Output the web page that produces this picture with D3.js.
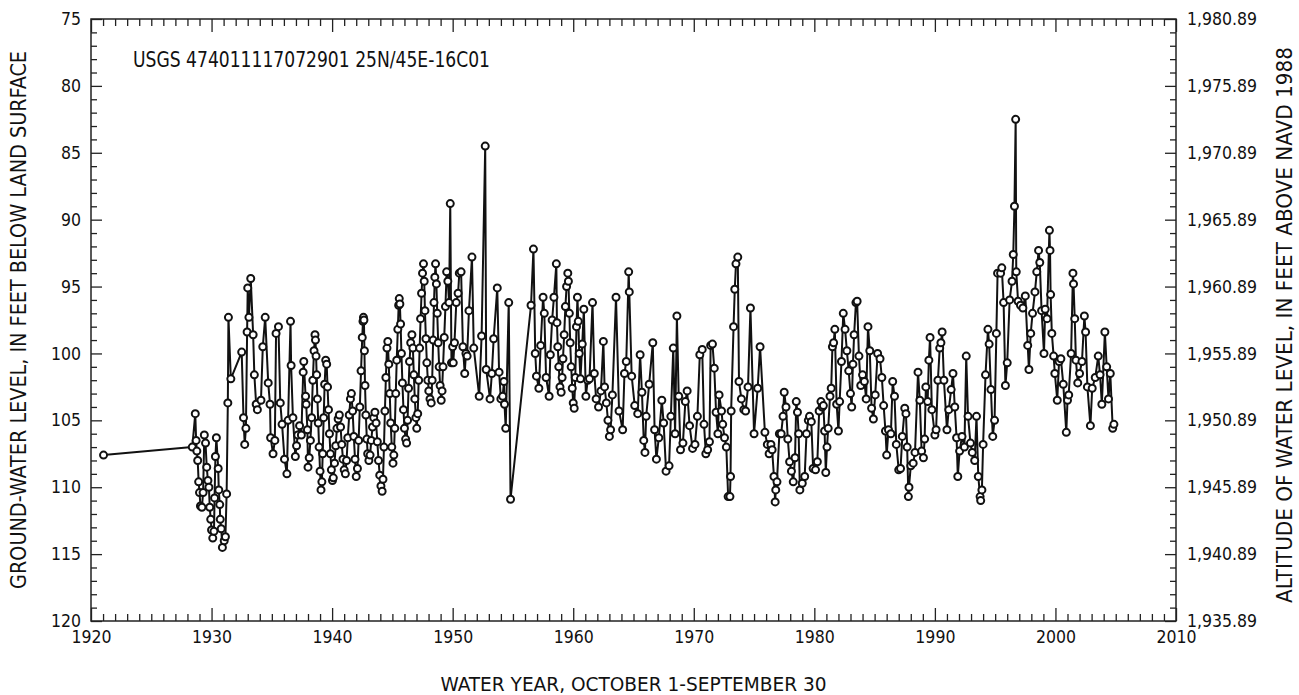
<!DOCTYPE html>
<html>
<head>
<meta charset="utf-8">
<script src="https://cdn.jsdelivr.net/npm/d3@7"></script>
<style>
  body { margin: 0; background: #fff; }
  svg text { font-family: "Liberation Sans Narrow", "Arial Narrow", "DejaVu Sans Condensed", sans-serif; fill: #111; }
</style>
</head>
<body>
<div id="chart"></div>
<script>
// well USGS 474011117072901 25N/45E-16C01, depth to water (ft below land surface)
// [water year (decimal), depth]
var obs1920s = [[1921.04,107.6],[1928.40,107.0],[1928.65,104.5],[1928.72,106.5],[1928.78,107.3],[1928.85,108.0],[1928.93,109.6],[1929.0,110.4],[1929.08,111.4],[1929.2,111.5],[1929.3,110.4],[1929.4,106.1],[1929.5,106.7],[1929.6,108.5],[1929.7,109.5],[1929.78,110.0],[1929.85,111.5],[1929.93,112.4]];
var obs1930s = [[1930.0,113.2],[1930.1,113.8],[1930.2,113.3],[1930.25,110.8],[1930.32,107.7],[1930.4,106.3],[1930.55,108.6],[1930.6,110.2],[1930.68,111.3],[1930.72,112.4],[1930.8,113.1],[1930.9,114.5],[1931.05,114.0],[1931.15,113.7],[1931.25,110.5],[1931.35,103.7],[1931.4,97.3],[1931.6,101.9],[1932.5,99.9],[1932.65,104.8],[1932.75,106.8],[1932.85,105.6],[1932.95,98.4],[1933.0,95.1],[1933.1,97.3],[1933.25,94.4],[1933.45,98.6],[1933.55,101.6],[1933.7,103.8],[1933.8,104.2],[1934.1,103.5],[1934.25,99.5],[1934.45,97.3],[1934.7,102.2],[1934.85,103.8],[1934.9,106.3],[1935.1,107.5],[1935.25,106.5],[1935.35,98.5],[1935.55,98.0],[1935.7,103.7],[1935.85,105.3],[1936.05,107.9],[1936.25,109.0],[1936.35,105.0],[1936.55,97.6],[1936.6,100.9],[1936.75,104.8],[1936.95,107.7],[1937.05,106.9],[1937.15,106.1],[1937.3,105.4],[1937.45,106.1],[1937.6,101.4],[1937.65,100.6],[1937.8,103.2],[1937.85,103.8],[1937.95,105.7],[1938.0,108.5],[1938.1,107.8],[1938.2,106.5],[1938.3,104.8],[1938.4,102.0],[1938.5,99.8],[1938.58,98.6],[1938.62,99.0],[1938.67,100.2],[1938.72,101.6],[1938.78,103.4],[1938.85,105.2],[1938.92,107.0],[1939.0,108.8],[1939.08,110.2],[1939.15,109.6],[1939.22,107.5],[1939.3,104.8],[1939.38,102.3],[1939.47,100.5],[1939.55,100.8],[1939.62,102.5],[1939.7,104.2],[1939.78,106.0],[1939.86,107.5],[1939.94,108.7]];
var obs1940s = [[1940.03,109.5],[1940.1,109.3],[1940.2,108.2],[1940.3,106.9],[1940.4,105.6],[1940.5,104.9],[1940.6,104.6],[1940.7,105.5],[1940.8,106.8],[1940.9,107.9],[1941.0,108.7],[1941.1,109.0],[1941.2,108.0],[1941.3,106.3],[1941.42,104.6],[1941.52,103.4],[1941.6,103.0],[1941.7,104.3],[1941.8,106.2],[1941.9,107.9],[1942.0,109.2],[1942.1,108.6],[1942.2,106.5],[1942.3,104.0],[1942.4,101.3],[1942.5,98.8],[1942.56,97.6],[1942.6,97.3],[1942.64,97.5],[1942.68,99.8],[1942.73,102.4],[1942.8,104.6],[1942.88,106.4],[1942.95,107.5],[1943.05,108.0],[1943.15,107.6],[1943.25,106.5],[1943.35,105.5],[1943.45,104.8],[1943.55,104.4],[1943.65,105.2],[1943.75,106.6],[1943.85,108.0],[1943.95,109.1],[1944.05,109.9],[1944.15,110.3],[1944.22,109.4],[1944.3,107.0],[1944.38,104.3],[1944.46,101.8],[1944.55,99.6],[1944.62,99.1],[1944.7,100.8],[1944.78,103.0],[1944.86,105.2],[1944.95,107.0],[1945.05,108.2],[1945.12,107.6],[1945.2,105.6],[1945.28,103.0],[1945.36,100.5],[1945.45,98.2],[1945.52,96.4],[1945.57,95.9],[1945.62,96.3],[1945.68,97.8],[1945.75,100.0],[1945.83,102.2],[1945.92,104.2],[1946.0,105.6],[1946.1,106.4],[1946.18,106.7],[1946.26,105.0],[1946.34,102.6],[1946.42,100.6],[1946.52,99.2],[1946.62,98.6],[1946.7,99.6],[1946.78,101.6],[1946.86,103.4],[1946.95,104.8],[1947.02,105.6],[1947.1,104.5],[1947.18,102.0],[1947.26,99.6],[1947.34,97.4],[1947.42,95.5],[1947.5,94.0],[1947.58,93.3],[1947.64,94.6],[1947.7,96.8],[1947.78,98.9],[1947.86,100.7],[1947.94,102.0],[1948.02,102.8],[1948.12,103.4],[1948.22,103.7],[1948.3,102.0],[1948.38,99.0],[1948.45,96.2],[1948.52,94.3],[1948.58,93.3],[1948.65,94.8],[1948.72,97.0],[1948.8,99.2],[1948.88,101.0],[1948.96,102.4],[1949.05,103.5],[1949.12,102.8],[1949.2,101.0],[1949.3,98.8],[1949.4,96.5],[1949.5,93.9],[1949.6,94.6],[1949.7,96.2],[1949.8,88.8],[1949.9,100.7],[1950.0,99.5]];
var obs1950s = [[1950.05,100.7],[1950.15,99.2],[1950.3,96.2],[1950.45,95.5],[1950.55,94.0],[1950.7,93.9],[1950.85,99.5],[1951.0,101.5],[1951.1,100.0],[1951.2,100.2],[1951.35,96.8],[1951.6,92.8],[1951.75,99.6],[1952.2,103.2],[1952.4,98.7],[1952.7,84.5],[1952.78,101.2],[1953.1,103.4],[1953.25,101.5],[1953.4,98.9],[1953.7,95.1],[1953.85,101.4],[1954.0,103.4],[1954.15,103.2],[1954.25,102.1],[1954.3,103.8],[1954.4,105.6],[1954.65,96.2],[1954.8,110.9],[1956.5,96.4],[1956.7,92.2],[1956.85,100.0],[1956.95,101.7],[1957.15,102.6],[1957.3,99.4],[1957.5,95.8],[1957.6,97.0],[1957.75,101.8],[1958.0,103.2],[1958.1,100.1],[1958.25,97.5],[1958.4,95.8],[1958.6,93.3],[1958.65,97.7],[1958.72,99.5],[1958.8,101.0],[1958.9,102.5],[1959.0,102.9],[1959.08,101.8],[1959.15,100.4],[1959.25,98.6],[1959.35,96.5],[1959.45,95.0],[1959.55,94.0],[1959.6,94.6],[1959.68,97.0],[1959.75,99.2],[1959.83,101.0],[1959.92,102.6]];
var obs1960s = [[1960.0,103.7],[1960.08,104.1],[1960.17,101.8],[1960.27,98.0],[1960.35,95.8],[1960.42,97.6],[1960.5,100.0],[1960.6,101.9],[1960.75,99.3],[1960.88,96.7],[1961.05,103.2],[1961.2,102.0],[1961.35,101.9],[1961.6,96.2],[1961.75,101.5],[1961.9,103.4],[1962.1,104.0],[1962.3,102.8],[1962.5,99.1],[1962.6,102.5],[1962.75,103.7],[1962.88,105.0],[1963.0,106.2],[1963.1,105.7],[1963.25,103.1],[1963.55,95.8],[1963.8,104.3],[1964.1,105.7],[1964.25,101.5],[1964.4,100.6],[1964.6,93.9],[1964.65,95.4],[1964.85,101.7],[1965.1,103.9],[1965.35,104.5],[1965.55,100.1],[1965.7,102.9],[1965.85,106.5],[1965.95,107.4],[1966.05,104.7],[1966.3,102.3],[1966.6,99.2],[1966.75,105.7],[1966.9,107.9],[1967.1,106.3],[1967.35,103.5],[1967.5,105.2],[1967.7,108.8],[1967.95,108.4],[1968.1,104.7],[1968.3,99.6],[1968.45,106.0],[1968.6,97.2],[1968.75,103.2],[1968.9,107.2],[1969.1,106.7],[1969.3,103.6],[1969.45,102.8],[1969.65,105.4],[1969.9,107.1]];
var obs1970s = [[1970.1,106.8],[1970.3,104.7],[1970.5,100.1],[1970.7,99.7],[1970.85,105.3],[1971.0,107.5],[1971.15,107.2],[1971.3,106.6],[1971.4,99.4],[1971.55,99.3],[1971.7,101.1],[1971.85,104.4],[1972.0,106.0],[1972.1,103.1],[1972.3,104.3],[1972.4,105.3],[1972.55,106.3],[1972.7,107.0],[1972.85,110.7],[1973.0,110.7],[1973.05,109.2],[1973.1,104.3],[1973.3,98.0],[1973.4,95.2],[1973.5,93.3],[1973.65,92.8],[1973.75,102.1],[1973.95,103.4],[1974.15,104.2],[1974.3,104.3],[1974.5,102.5],[1974.7,96.6],[1975.0,106.0],[1975.3,102.6],[1975.5,99.5],[1975.9,105.9],[1976.1,106.8],[1976.25,107.5],[1976.4,106.8],[1976.5,107.2],[1976.65,109.2],[1976.75,111.1],[1976.8,110.2],[1976.9,109.6],[1977.1,106.0],[1977.25,106.0],[1977.4,104.7],[1977.5,102.9],[1977.65,104.0],[1977.8,106.4],[1977.95,108.1],[1978.1,108.8],[1978.25,109.6],[1978.4,107.8],[1978.5,103.6],[1978.6,104.4],[1978.7,106.0],[1978.8,110.2],[1979.0,109.7],[1979.2,109.2],[1979.35,106.0],[1979.5,105.0],[1979.6,104.7],[1979.75,105.1],[1979.9,108.6]];
var obs1980s = [[1980.1,108.7],[1980.25,108.1],[1980.4,104.3],[1980.55,103.6],[1980.65,104.0],[1980.75,103.9],[1980.85,105.8],[1980.95,108.9],[1981.05,107.0],[1981.15,105.6],[1981.3,103.2],[1981.4,102.6],[1981.5,99.5],[1981.6,99.2],[1981.7,98.2],[1981.85,103.8],[1982.0,105.8],[1982.1,103.6],[1982.25,100.6],[1982.4,97.0],[1982.55,98.2],[1982.7,99.8],[1982.85,101.3],[1983.0,103.0],[1983.1,104.0],[1983.2,100.8],[1983.3,98.6],[1983.45,96.2],[1983.55,96.1],[1983.7,100.2],[1983.85,102.4],[1984.0,101.6],[1984.15,102.1],[1984.3,103.4],[1984.45,98.0],[1984.6,99.8],[1984.75,104.1],[1984.9,104.9],[1985.05,103.1],[1985.25,100.0],[1985.45,100.4],[1985.6,101.8],[1985.75,103.9],[1985.9,105.8],[1986.0,107.6],[1986.15,105.7],[1986.35,106.0],[1986.5,102.1],[1986.65,103.2],[1986.8,106.8],[1987.0,108.7],[1987.15,108.6],[1987.3,106.2],[1987.5,104.1],[1987.6,104.5],[1987.7,107.0],[1987.8,110.7],[1987.85,110.0],[1988.0,108.4],[1988.2,108.2],[1988.35,107.4],[1988.6,101.4],[1988.75,103.5],[1988.9,107.3],[1989.05,107.8],[1989.15,106.4],[1989.25,102.5],[1989.4,103.6],[1989.5,100.5],[1989.6,98.8],[1989.75,104.2]];
var obs1990s = [[1990.0,106.1],[1990.1,105.7],[1990.25,102.0],[1990.4,99.6],[1990.5,99.2],[1990.6,98.4],[1990.75,102.0],[1991.0,105.7],[1991.15,104.2],[1991.35,102.7],[1991.5,101.5],[1991.65,104.0],[1991.8,106.3],[1991.9,109.2],[1992.05,107.3],[1992.25,106.2],[1992.45,107.0],[1992.6,100.2],[1992.75,104.7],[1992.95,106.7],[1993.1,107.4],[1993.3,108.0],[1993.45,104.7],[1993.6,109.2],[1993.75,110.7],[1993.8,111.0],[1993.9,110.2],[1994.0,106.8],[1994.2,101.6],[1994.4,98.2],[1994.5,99.3],[1994.65,102.7],[1994.8,106.2],[1994.95,105.0],[1995.1,98.5],[1995.2,94.0],[1995.45,94.0],[1995.55,93.6],[1995.7,96.2],[1995.85,102.4],[1996.0,100.7],[1996.2,96.0],[1996.4,94.6],[1996.5,92.6],[1996.6,89.0],[1996.7,82.5],[1996.75,93.9],[1996.9,96.1],[1997.1,96.4],[1997.3,96.6],[1997.5,95.7],[1997.7,99.4],[1997.8,101.2],[1997.95,98.5],[1998.1,97.0],[1998.3,95.4],[1998.45,93.9],[1998.6,92.3],[1998.7,93.2],[1998.85,96.8],[1999.05,100.0],[1999.15,96.7],[1999.3,97.4],[1999.5,90.8],[1999.55,92.3],[1999.6,95.6],[1999.7,98.5],[1999.85,100.2],[1999.95,101.5]];
var obs2000s = [[2000.15,103.5],[2000.3,100.6],[2000.45,100.4],[2000.65,102.3],[2000.9,105.9],[2001.0,103.5],[2001.1,103.1],[2001.3,100.0],[2001.45,94.0],[2001.5,94.8],[2001.6,97.4],[2001.7,100.5],[2001.85,102.2],[2002.0,101.5],[2002.2,100.6],[2002.4,97.2],[2002.5,98.4],[2002.65,102.5],[2002.9,105.4],[2003.05,102.6],[2003.3,101.8],[2003.55,100.2],[2003.7,101.6],[2003.85,103.8],[2004.1,98.4],[2004.25,101.0],[2004.4,103.4],[2004.55,101.5],[2004.75,105.6],[2004.85,105.3]];

var xMajor = [1920,1930,1940,1950,1960,1970,1980,1990,2000,2010];
var yMajor = [75,80,85,90,95,100,105,110,115,120];
var landSurface = 2055.89; // altitude = landSurface - depth

var title = "USGS 474011117072901 25N/45E-16C01";
var yLabel = "GROUND-WATER LEVEL, IN FEET BELOW LAND SURFACE";
var y2Label = "ALTITUDE OF WATER LEVEL, IN FEET ABOVE NAVD 1988";
var xLabel = "WATER YEAR, OCTOBER 1-SEPTEMBER 30";

var data = [].concat(obs1920s, obs1930s, obs1940s, obs1950s, obs1960s, obs1970s, obs1980s, obs1990s, obs2000s);

var width = 1299, height = 695;
var margin = {left: 91, right: 1176, top: 19, bottom: 621};
var fontNarrow = "'Liberation Sans Narrow','Arial Narrow','DejaVu Sans Condensed',sans-serif";

var svg = d3.select("#chart").append("svg")
    .attr("width", width)
    .attr("height", height);

var x = d3.scaleLinear().domain([1920, 2010]).range([margin.left, margin.right]);
var y = d3.scaleLinear().domain([75, 120]).range([margin.top, margin.bottom]);
var y2 = d3.scaleLinear().domain([landSurface - 75, landSurface - 120]).range([margin.top, margin.bottom]);

var minorYears = d3.range(1920, 2011).filter(function(d){ return d % 10 != 0; });
var minorFeet = d3.range(75, 121).filter(function(d){ return d % 5 != 0; });

// bottom axis
svg.append("g").attr("class", "ax")
    .attr("transform", "translate(0," + margin.bottom + ")")
    .call(d3.axisBottom(x).tickValues(xMajor).tickSizeInner(-13).tickSizeOuter(0).tickPadding(10).tickFormat(d3.format("d")));
svg.append("g").attr("class", "ax")
    .attr("transform", "translate(0," + margin.bottom + ")")
    .call(d3.axisBottom(x).tickValues(minorYears).tickSizeInner(-7).tickSizeOuter(0).tickFormat(""));
// top axis (ticks only)
svg.append("g").attr("class", "ax")
    .attr("transform", "translate(0," + margin.top + ")")
    .call(d3.axisTop(x).tickValues(xMajor).tickSizeInner(-13).tickSizeOuter(0).tickFormat(""));
svg.append("g").attr("class", "ax")
    .attr("transform", "translate(0," + margin.top + ")")
    .call(d3.axisTop(x).tickValues(minorYears).tickSizeInner(-7).tickSizeOuter(0).tickFormat(""));
// left axis
svg.append("g").attr("class", "ax")
    .attr("transform", "translate(" + margin.left + ",0)")
    .call(d3.axisLeft(y).tickValues(yMajor).tickSizeInner(-11).tickSizeOuter(0).tickPadding(10).tickFormat(d3.format("d")));
svg.append("g").attr("class", "ax")
    .attr("transform", "translate(" + margin.left + ",0)")
    .call(d3.axisLeft(y).tickValues(minorFeet).tickSizeInner(-6).tickSizeOuter(0).tickFormat(""));
// right axis
svg.append("g").attr("class", "ax")
    .attr("transform", "translate(" + margin.right + ",0)")
    .call(d3.axisRight(y2).tickValues(yMajor.map(function(d){ return landSurface - d; })).tickSizeInner(-11).tickSizeOuter(0).tickPadding(11).tickFormat(d3.format(",.2f")));
svg.append("g").attr("class", "ax")
    .attr("transform", "translate(" + margin.right + ",0)")
    .call(d3.axisRight(y2).tickValues(minorFeet.map(function(d){ return landSurface - d; })).tickSizeInner(-6).tickSizeOuter(0).tickFormat(""));

svg.selectAll(".ax .domain").remove();
svg.selectAll(".ax line").attr("stroke", "#222").attr("stroke-width", 1.3);
svg.selectAll(".ax text").attr("font-size", 17.5).attr("fill", "#111")
    .style("font-family", fontNarrow);

// frame
svg.append("rect")
    .attr("x", margin.left).attr("y", margin.top)
    .attr("width", margin.right - margin.left).attr("height", margin.bottom - margin.top)
    .attr("fill", "none").attr("stroke", "#222").attr("stroke-width", 1.5);

// series
var line = d3.line()
    .x(function(d){ return x(d[0]); })
    .y(function(d){ return y(d[1]); });
svg.append("path")
    .datum(data)
    .attr("d", line)
    .attr("fill", "none")
    .attr("stroke", "#111")
    .attr("stroke-width", 2)
    .attr("stroke-linejoin", "round");

svg.append("g").selectAll("circle")
    .data(data)
    .enter().append("circle")
    .attr("cx", function(d){ return x(d[0]); })
    .attr("cy", function(d){ return y(d[1]); })
    .attr("r", 3.5)
    .attr("fill", "#fff")
    .attr("stroke", "#111")
    .attr("stroke-width", 2);

// texts
var midY = (margin.top + margin.bottom) / 2;
svg.append("text")
    .attr("x", 133).attr("y", 67)
    .attr("font-size", 21)
    .attr("textLength", 357).attr("lengthAdjust", "spacingAndGlyphs")
    .text(title);

svg.append("text")
    .attr("transform", "translate(26," + midY + ") rotate(-90)")
    .attr("text-anchor", "middle")
    .attr("font-size", 21)
    .attr("textLength", 538).attr("lengthAdjust", "spacingAndGlyphs")
    .text(yLabel);

svg.append("text")
    .attr("transform", "translate(1292," + (midY + 5) + ") rotate(-90)")
    .attr("text-anchor", "middle")
    .attr("font-size", 21)
    .attr("textLength", 556).attr("lengthAdjust", "spacingAndGlyphs")
    .text(y2Label);

svg.append("text")
    .attr("x", (margin.left + margin.right) / 2).attr("y", 691)
    .attr("text-anchor", "middle")
    .attr("font-size", 20)
    .attr("textLength", 386).attr("lengthAdjust", "spacingAndGlyphs")
    .text(xLabel);
</script>
</body>
</html>
